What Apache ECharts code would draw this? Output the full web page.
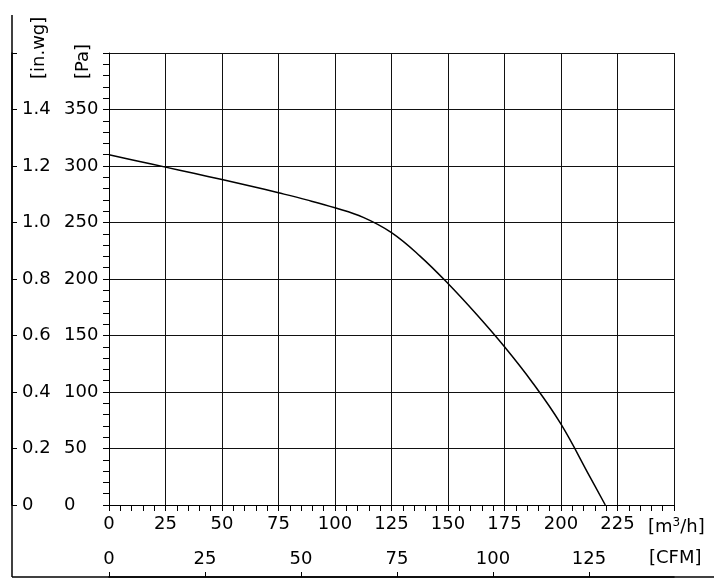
<!DOCTYPE html>
<html>
<head>
<meta charset="utf-8">
<script src="https://cdn.jsdelivr.net/npm/echarts@6/dist/echarts.min.js"></script>
<style>
html,body{margin:0;padding:0;background:#fff;}
#chart{width:724px;height:586px;}
</style>
</head>
<body>
<div id="chart"></div>
<script>
// Data
const flowM3h    = [0,   12.5,  25,  37.5,  50,  62.5,  75,    87.5, 100, 112.5, 125, 137.5, 150, 162.5, 175, 187.5, 200,  212.5, 219.6];
const pressurePa = [310, 304.5, 299, 293.5, 288, 282.3, 276.3, 270,  263, 254.5, 241, 220.5, 196, 169,   140, 108,   71.5, 26,    0];

// Tick labels
const flowTicks  = [0, 25, 50, 75, 100, 125, 150, 175, 200, 225];
const cfmTicks   = [0, 25, 50, 75, 100, 125];
const paTicks    = [0, 50, 100, 150, 200, 250, 300, 350];
const inwgTicks  = [0, 0.2, 0.4, 0.6, 0.8, 1.0, 1.2, 1.4];

const FLOW_MAX = 250, PA_MAX = 400;
const CFM_PER_M3H = 1 / 1.69901;
const INWG_MAX = 1.6;

const FONT = 'DejaVu Sans';
const chart = echarts.init(document.getElementById('chart'), null, {renderer: 'canvas'});
const txt = {color: '#000', fontFamily: FONT, fontSize: 18};

chart.setOption({
  animation: false,
  backgroundColor: '#fff',
  grid: {left: 109, right: 50, top: 53, bottom: 81, containLabel: false},
  xAxis: [
    {
      type: 'value', min: 0, max: FLOW_MAX, interval: 25, position: 'bottom',
      axisLine: {show: true, onZero: false, lineStyle: {color: '#000', width: 1}},
      axisTick: {show: true, length: 6, lineStyle: {color: '#000'}},
      minorTick: {show: true, splitNumber: 5, length: 6, lineStyle: {color: '#000'}},
      axisLabel: Object.assign({margin: 10, customValues: flowTicks, formatter: v => String(v)}, txt),
      splitLine: {show: true, lineStyle: {color: '#111', width: 1}}
    },
    {
      type: 'value', min: 0, max: FLOW_MAX * CFM_PER_M3H, position: 'bottom', offset: 72,
      axisLine: {show: true, onZero: false, lineStyle: {color: '#000', width: 1.5}},
      axisTick: {show: true, inside: true, length: 5, customValues: cfmTicks, lineStyle: {color: '#000'}},
      axisLabel: Object.assign({inside: true, margin: 9, customValues: cfmTicks, formatter: v => String(v)}, txt),
      splitLine: {show: false}
    }
  ],
  yAxis: [
    {
      type: 'value', min: 0, max: PA_MAX, interval: 50, position: 'left',
      axisLine: {show: true, onZero: false, lineStyle: {color: '#000', width: 1}},
      axisTick: {show: true, length: 6, lineStyle: {color: '#000'}},
      minorTick: {show: true, splitNumber: 5, length: 6, lineStyle: {color: '#000'}},
      axisLabel: Object.assign({margin: 45, align: 'left', customValues: paTicks, formatter: v => String(v)}, txt),
      splitLine: {show: true, lineStyle: {color: '#111', width: 1}}
    },
    {
      type: 'value', min: 0, max: INWG_MAX, interval: 0.2, position: 'left', offset: 97,
      axisLine: {show: true, onZero: false, lineStyle: {color: '#000', width: 1.5}},
      axisTick: {show: true, inside: true, length: 5, lineStyle: {color: '#000'}},
      axisLabel: Object.assign({inside: true, margin: 10, align: 'left', customValues: inwgTicks,
        formatter: v => (v === 0 ? '0' : v.toFixed(1))}, txt),
      splitLine: {show: false}
    }
  ],
  series: [{
    type: 'line',
    xAxisIndex: 0, yAxisIndex: 0,
    data: flowM3h.map((x, i) => [x, pressurePa[i]]),
    smooth: 0.4,
    showSymbol: false,
    lineStyle: {color: '#000', width: 1.5},
    itemStyle: {color: '#000'}
  }],
  graphic: [
    {type: 'line', shape: {x1: 12, y1: 15, x2: 12, y2: 577}, style: {stroke: '#000', lineWidth: 1.5}, silent: true},
    {type: 'line', shape: {x1: 12, y1: 577, x2: 714, y2: 577}, style: {stroke: '#000', lineWidth: 1.5}, silent: true},
    {type: 'text', x: 39, y: 79, rotation: Math.PI / 2,
      style: {text: '[in.wg]', font: '18px ' + FONT, fill: '#000', align: 'left', verticalAlign: 'middle'}},
    {type: 'text', x: 83, y: 79, rotation: Math.PI / 2,
      style: {text: '[Pa]', font: '18px ' + FONT, fill: '#000', align: 'left', verticalAlign: 'middle'}},
    {type: 'text', x: 648, y: 527,
      style: {text: '[m{sup|3}/h]', font: '18px ' + FONT, fill: '#000', align: 'left', verticalAlign: 'middle',
        rich: {sup: {fontSize: 12, fontFamily: FONT, fill: '#000', padding: [0, 0, 9, 0], verticalAlign: 'bottom'}}}},
    {type: 'text', x: 649, y: 558,
      style: {text: '[CFM]', font: '18px ' + FONT, fill: '#000', align: 'left', verticalAlign: 'middle'}}
  ]
});
</script>
</body>
</html>
